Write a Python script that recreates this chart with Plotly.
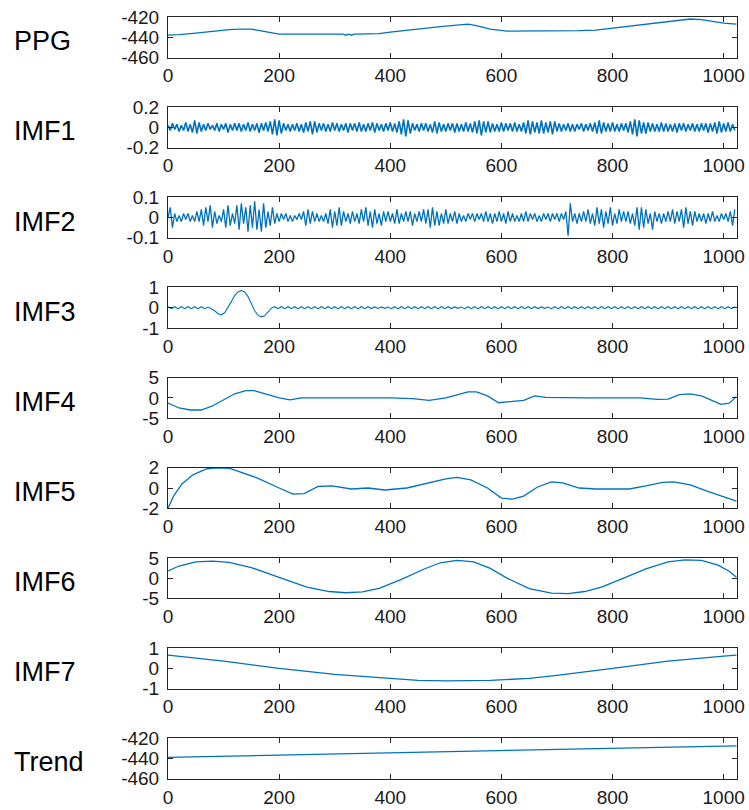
import numpy as np
import plotly.graph_objects as go

# ---------------- data ----------------
panel_names = ["PPG", "IMF1", "IMF2", "IMF3", "IMF4", "IMF5", "IMF6", "IMF7", "Trend"]

x_ticks = [0, 200, 400, 600, 800, 1000]
x_tick_labels = ["0", "200", "400", "600", "800", "1000"]

ppg_x = [0, 20, 50, 80, 110, 130, 150, 170, 200, 250, 300, 315, 320, 325, 330, 335, 340, 350, 380,
         400, 430, 460, 490, 520, 540, 555, 580, 610, 640, 660, 700, 740, 770, 800, 830, 860, 890,
         920, 940, 960, 980, 1000, 1023]
ppg_y = [-438, -437.5, -436, -434, -432.5, -432, -432, -434, -437, -437, -437, -437, -438, -437, -438,
         -437, -437, -437, -436.5, -435, -433, -431, -429.5, -428, -427, -428.5, -432, -434, -434,
         -433.5, -433.5, -433.5, -433, -431, -429, -427, -425, -423, -422, -422.5, -424.5, -426, -427]

imf1_y = [
    0.02, -0.03, 0.04, -0.02, 0.03, -0.04, 0.02, -0.03, 0.05, -0.04, 0.03, -0.05, 0.07, -0.06, 0.05, -0.04,
    0.03, -0.03, 0.04, -0.02, 0.02, -0.03, 0.04, -0.04, 0.03, -0.02, 0.04, -0.05, 0.03, -0.03, 0.04, -0.03,
    0.04, -0.04, 0.03, -0.03, 0.05, -0.04, 0.03, -0.03, 0.04, -0.05, 0.04, -0.03, 0.05, -0.04, 0.06, -0.07,
    0.08, -0.08, 0.07, -0.06, 0.04, -0.03, 0.03, -0.04, 0.03, -0.03, 0.04, -0.04, 0.03, -0.05, 0.05, -0.04,
    0.06, -0.07, 0.06, -0.05, 0.04, -0.03, 0.04, -0.04, 0.03, -0.04, 0.05, -0.03, 0.04, -0.04, 0.03, -0.03,
    0.04, -0.05, 0.04, -0.03, 0.04, -0.04, 0.05, -0.04, 0.03, -0.04, 0.04, -0.03, 0.05, -0.05, 0.04, -0.03,
    0.03, -0.04, 0.04, -0.03, 0.05, -0.04, 0.04, -0.05, 0.06, -0.07, 0.08, -0.09, 0.07, -0.06, 0.04, -0.03,
    0.03, -0.04, 0.04, -0.03, 0.04, -0.04, 0.03, -0.05, 0.06, -0.06, 0.05, -0.04, 0.03, -0.04, 0.04, -0.03,
    0.04, -0.05, 0.04, -0.04, 0.03, -0.04, 0.05, -0.04, 0.04, -0.05, 0.06, -0.06, 0.07, -0.08, 0.06, -0.05,
    0.06, -0.05, 0.04, -0.04, 0.03, -0.04, 0.05, -0.04, 0.04, -0.03, 0.04, -0.04, 0.05, -0.04, 0.03, -0.04,
    0.05, -0.06, 0.07, -0.07, 0.06, -0.05, 0.05, -0.06, 0.07, -0.06, 0.05, -0.05, 0.06, -0.07, 0.06, -0.04,
    0.04, -0.04, 0.03, -0.03, 0.04, -0.04, 0.03, -0.04, 0.03, -0.02, 0.04, -0.04, 0.03, -0.03, 0.04, -0.04,
    0.05, -0.06, 0.07, -0.06, 0.05, -0.04, 0.04, -0.04, 0.05, -0.04, 0.03, -0.04, 0.04, -0.03, 0.04, -0.05,
    0.06, -0.07, 0.08, -0.09, 0.07, -0.06, 0.05, -0.06, 0.05, -0.04, 0.04, -0.04, 0.03, -0.04, 0.05, -0.04,
    0.04, -0.04, 0.03, -0.04, 0.04, -0.05, 0.04, -0.03, 0.04, -0.04, 0.03, -0.03, 0.04, -0.04, 0.03, -0.04,
    0.04, -0.03, 0.04, -0.05, 0.04, -0.04, 0.05, -0.06, 0.06, -0.05, 0.04, -0.04, 0.05, -0.04, 0.03, -0.03,
]

imf2_y = [
    0.0, 0.05, -0.05, 0.02, -0.02, 0.01, -0.02, 0.02, -0.01, 0.02, -0.02, 0.01, -0.02, 0.03, -0.02, 0.04,
    -0.04, 0.05, -0.02, 0.06, -0.05, 0.03, -0.03, 0.01, -0.02, 0.04, -0.05, 0.06, -0.04, 0.02, -0.03, 0.06,
    -0.06, 0.07, -0.03, 0.05, -0.07, 0.06, -0.05, 0.08, -0.06, 0.04, -0.07, 0.07, -0.05, 0.03, -0.04, 0.05,
    -0.03, 0.02, -0.02, 0.02, -0.01, 0.02, -0.02, 0.01, -0.02, 0.01, -0.01, 0.02, -0.01, 0.03, -0.04, 0.04,
    -0.03, 0.03, -0.02, 0.02, -0.02, 0.01, -0.02, 0.02, -0.03, 0.04, -0.05, 0.03, -0.04, 0.05, -0.04, 0.03,
    -0.02, 0.02, -0.03, 0.03, -0.02, 0.02, -0.03, 0.04, -0.02, 0.05, -0.04, 0.03, -0.05, 0.04, -0.03, 0.02,
    -0.04, 0.03, -0.02, 0.03, -0.02, 0.02, -0.03, 0.04, -0.03, 0.02, -0.02, 0.03, -0.02, 0.03, -0.04, 0.02,
    -0.02, 0.03, -0.02, 0.04, -0.03, 0.04, -0.05, 0.05, -0.04, 0.03, -0.04, 0.02, -0.03, 0.04, -0.03, 0.02,
    -0.02, 0.03, -0.03, 0.02, -0.02, 0.01, -0.02, 0.02, -0.01, 0.02, -0.02, 0.02, -0.01, 0.02, -0.02, 0.03,
    -0.02, 0.02, -0.03, 0.02, -0.02, 0.03, -0.02, 0.02, -0.03, 0.03, -0.02, 0.02, -0.02, 0.01, -0.02, 0.02,
    -0.02, 0.03, -0.02, 0.02, -0.01, 0.02, -0.02, 0.01, -0.02, 0.02, -0.01, 0.02, -0.02, 0.02, -0.01, 0.02,
    -0.02, 0.02, -0.01, 0.03, -0.09, 0.07, -0.02, 0.02, -0.03, 0.02, -0.02, 0.03, -0.02, 0.04, -0.03, 0.02,
    -0.04, 0.05, -0.03, 0.04, -0.05, 0.03, -0.03, 0.05, -0.04, 0.02, -0.03, 0.04, -0.02, 0.03, -0.02, 0.03,
    -0.03, 0.02, -0.04, 0.05, -0.06, 0.05, -0.05, 0.04, -0.03, 0.02, -0.06, 0.03, -0.02, 0.02, -0.03, 0.02,
    -0.02, 0.03, -0.02, 0.04, -0.03, 0.03, -0.02, 0.04, -0.05, 0.05, -0.03, 0.03, -0.04, 0.03, -0.02, 0.02,
    -0.02, 0.02, -0.03, 0.02, -0.02, 0.03, -0.02, 0.01, -0.02, 0.02, -0.01, 0.02, -0.02, 0.03, -0.04, 0.04,
]

imf3_y = [
    0.05, -0.05, 0.05, -0.05, 0.05, -0.05, 0.05, -0.05, 0.05, -0.05, 0.05, -0.05, 0.03,
    -0.05, -0.15, -0.3, -0.35, -0.25, 0.0, 0.3, 0.6, 0.78, 0.85, 0.78, 0.55, 0.2, -0.15, -0.38, -0.45,
    -0.4, -0.2, -0.02, 0.05,
    -0.05, 0.05, -0.05, 0.05, -0.05, 0.05, -0.05, 0.05, -0.05, 0.05, -0.05, 0.05, -0.05, 0.05,
    -0.05, 0.05, -0.05, 0.05, -0.05, 0.05, -0.05, 0.05, -0.05, 0.05, -0.05, 0.05, -0.05, 0.05,
    -0.04, 0.04, -0.04, 0.04, -0.03, 0.03, -0.05, 0.05, -0.05, 0.05, -0.05, 0.05, -0.05, 0.05,
    -0.05, 0.05, -0.05, 0.05, -0.05, 0.05, -0.05, 0.05, -0.05, 0.05, -0.04, 0.04, -0.03, 0.03,
    -0.05, 0.05, -0.05, 0.05, -0.05, 0.05, -0.05, 0.05, -0.05, 0.05, -0.05, 0.05, -0.05, 0.05,
    -0.05, 0.05, -0.05, 0.05, -0.05, 0.05, -0.05, 0.05, -0.04, 0.04, -0.03, 0.03, -0.05, 0.05,
    -0.05, 0.05, -0.05, 0.05, -0.05, 0.05, -0.05, 0.05, -0.05, 0.05, -0.05, 0.05, -0.05, 0.05,
    -0.05, 0.05, -0.05, 0.05, -0.05, 0.05, -0.05, 0.05, -0.05, 0.05, -0.05, 0.05, -0.05, 0.05,
    -0.05, 0.05, -0.05, 0.05, -0.05, 0.05, -0.05, 0.05, -0.05, 0.05, -0.05, 0.05, -0.05, 0.05,
    -0.05, 0.05, -0.05, 0.05, -0.05, 0.05, -0.05, 0.05, -0.05, 0.05, -0.05, 0.05,
]

imf4_x = [0, 20, 40, 60, 80, 100, 120, 140, 155, 175, 200, 220, 240, 300, 400, 440, 470, 500, 520, 540,
          555, 575, 595, 615, 640, 660, 680, 750, 850, 880, 900, 920, 940, 960, 980, 995, 1010, 1023]
imf4_y = [-1.3, -2.5, -3.0, -3.0, -2.0, -0.5, 1.0, 1.8, 1.8, 1.0, 0.0, -0.5, 0.0, 0.0, 0.0, -0.2, -0.6,
          0.0, 0.8, 1.5, 1.5, 0.5, -1.2, -1.0, -0.6, 0.5, 0.1, 0.0, 0.0, -0.4, -0.3, 0.8, 1.0, 0.5, -0.7,
          -1.6, -1.3, 0.3]

imf5_x = [0, 10, 25, 45, 70, 90, 110, 135, 160, 200, 225, 245, 270, 295, 330, 360, 390, 430, 470,
          500, 520, 545, 575, 600, 620, 640, 665, 690, 710, 740, 770, 800, 830, 860, 890, 910, 940,
          970, 1000, 1023]
imf5_y = [-2.0, -0.8, 0.4, 1.3, 1.9, 2.0, 1.95, 1.5, 1.0, 0.0, -0.6, -0.55, 0.15, 0.2, -0.1, 0.0,
          -0.2, 0.0, 0.5, 0.9, 1.05, 0.8, 0.0, -1.0, -1.1, -0.8, 0.1, 0.6, 0.5, 0.0, -0.1, -0.1, -0.1,
          0.2, 0.55, 0.6, 0.3, -0.3, -0.9, -1.3]

imf6_x = [0, 20, 50, 80, 110, 150, 200, 250, 290, 320, 350, 380, 420, 460, 490, 520, 550, 580, 610,
          650, 690, 720, 750, 780, 820, 860, 900, 930, 960, 990, 1010, 1023]
imf6_y = [1.8, 3.0, 4.0, 4.2, 3.9, 2.6, 0.2, -2.2, -3.3, -3.6, -3.4, -2.5, -0.3, 2.2, 3.8, 4.4, 4.0,
          2.4, 0.0, -2.6, -3.7, -3.8, -3.3, -2.2, 0.0, 2.3, 4.0, 4.5, 4.4, 3.2, 1.7, 0.2]

imf7_x = [0, 100, 200, 300, 400, 450, 500, 550, 580, 650, 700, 800, 900, 1000, 1023]
imf7_y = [0.65, 0.35, 0.0, -0.3, -0.5, -0.6, -0.62, -0.62, -0.6, -0.5, -0.35, 0.0, 0.35, 0.6, 0.65]

trend_x = [0, 128, 256, 384, 512, 640, 768, 896, 1023]
trend_y = [-439, -437.6, -436.2, -434.8, -433.4, -432, -430.5, -429, -427.5]

y_ranges = [(-460, -420), (-0.2, 0.2), (-0.1, 0.1), (-1, 1), (-5, 5), (-2, 2), (-5, 5), (-1, 1), (-460, -420)]
y_tick_vals = [[-460, -440, -420], [-0.2, 0, 0.2], [-0.1, 0, 0.1], [-1, 0, 1], [-5, 0, 5],
               [-2, 0, 2], [-5, 0, 5], [-1, 0, 1], [-460, -440, -420]]
y_tick_text = [["-460", "-440", "-420"], ["-0.2", "0", "0.2"], ["-0.1", "0", "0.1"], ["-1", "0", "1"],
               ["-5", "0", "5"], ["-2", "0", "2"], ["-5", "0", "5"], ["-1", "0", "1"],
               ["-460", "-440", "-420"]]

# ---------------- figure ----------------
W, H = 749, 810
fig = go.Figure()

series = [
    (ppg_x, ppg_y, 1.3),
    (np.arange(len(imf1_y)) * 4, imf1_y, 1.6),
    (np.arange(len(imf2_y)) * 4, imf2_y, 1.3),
    (np.arange(len(imf3_y)) * 6, imf3_y, 1.1),
    (imf4_x, imf4_y, 1.3),
    (imf5_x, imf5_y, 1.3),
    (imf6_x, imf6_y, 1.3),
    (imf7_x, imf7_y, 1.3),
    (trend_x, trend_y, 1.3),
]

LINE = "#0072BD"
AX = "#262626"
FONT = "Liberation Sans, Arial, sans-serif"
left_px, right_px = 168, 737
top0, step, h = 17, 90.15, 40.5

layout = dict(
    width=W, height=H, margin=dict(l=0, r=0, t=0, b=0),
    paper_bgcolor="white", plot_bgcolor="white", showlegend=False,
    font=dict(family=FONT, size=19, color="#1a1a1a"),
)
annotations = []
for i, (xs, ys, lw) in enumerate(series):
    n = "" if i == 0 else str(i + 1)
    fig.add_trace(go.Scatter(x=list(xs), y=ys, mode="lines", line=dict(color=LINE, width=lw),
                             xaxis="x" + n, yaxis="y" + n, hoverinfo="skip"))
    top = top0 + step * i
    bot = top + h
    layout["xaxis" + n] = dict(
        domain=[left_px / W, right_px / W], anchor="y" + n, range=[0, 1024],
        tickvals=x_ticks, ticktext=x_tick_labels, ticks="inside", ticklen=5, tickcolor=AX,
        showline=True, linecolor=AX, linewidth=1, mirror="ticks", showgrid=False, zeroline=False,
        automargin=False, ticklabelstandoff=1, tickfont=dict(size=19, family=FONT, color="#1a1a1a"),
    )
    layout["yaxis" + n] = dict(
        domain=[1 - bot / H, 1 - top / H], anchor="x" + n, range=list(y_ranges[i]),
        tickvals=y_tick_vals[i], ticktext=y_tick_text[i], ticks="inside", ticklen=5, tickcolor=AX,
        showline=True, linecolor=AX, linewidth=1, mirror="ticks", showgrid=False, zeroline=False,
        automargin=False, ticklabelstandoff=4, tickfont=dict(size=19, family=FONT, color="#1a1a1a"),
    )
    annotations.append(dict(
        text=panel_names[i], xref="paper", yref="paper", x=12 / W, y=1 - (top + h / 2 + 4) / H,
        xanchor="left", yanchor="middle", showarrow=False,
        font=dict(size=27, family=FONT, color="#000000"),
    ))

layout["annotations"] = annotations
fig.update_layout(**layout)
fig.write_html("out.html",
               config={"displayModeBar": False},
               post_script="document.body.style.margin='0';document.body.style.padding='0';"
                           "document.body.style.overflow='hidden';")
